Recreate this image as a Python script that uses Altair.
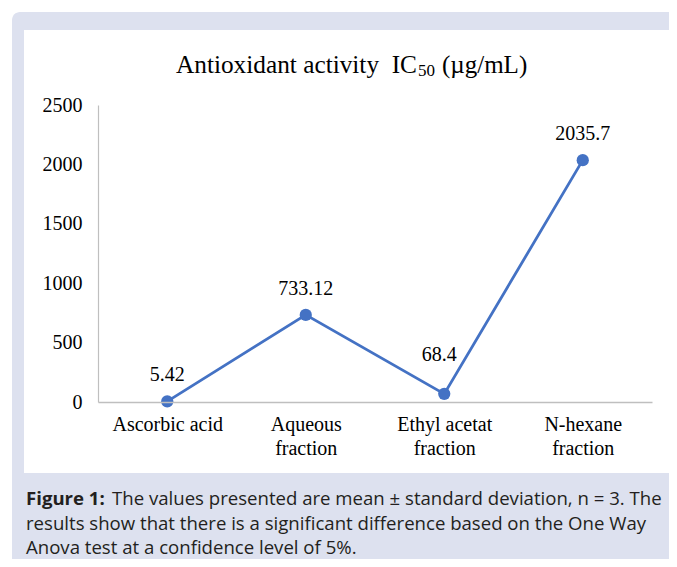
import altair as alt
import pandas as pd

categories = ["Ascorbic acid", "Aqueous fraction", "Ethyl acetat fraction", "N-hexane fraction"]
values = [5.42, 733.12, 68.4, 2035.7]
value_labels = ["5.42", "733.12", "68.4", "2035.7"]
y_ticks = [0, 500, 1000, 1500, 2000, 2500]

title_main = "Antioxidant activity\u00a0\u00a0IC"
title_sub = "50"
title_unit = "(\u00b5g/mL)"
caption_bold = "Figure 1:"
caption_lines = [
    "The values presented are mean \u00b1 standard deviation, n = 3. The",
    "results show that there is a significant difference based on the One Way",
    "Anova test at a confidence level of 5%.",
]

df = pd.DataFrame({"category": categories, "value": values, "label": value_labels})

SERIF = "Liberation Serif"
SANS = "Open Sans"
BLUE = "#4472C4"
LAV = "#dde1ef"

one = pd.DataFrame({"a": [0]})

bg = alt.Chart(one).mark_rect(color=LAV, cornerRadiusTopLeft=8).encode(
    x=alt.value(-86), x2=alt.value(600), y=alt.value(-93), y2=alt.value(470)
)
panel = alt.Chart(one).mark_rect(color="white").encode(
    x=alt.value(-74), x2=alt.value(576), y=alt.value(-75), y2=alt.value(368)
)

t1 = alt.Chart(one).mark_text(font=SERIF, fontSize=25.3, align="right", baseline="middle", color="black").encode(
    x=alt.value(319), y=alt.value(-40), text=alt.value(title_main))
t2 = alt.Chart(one).mark_text(font=SERIF, fontSize=17, align="left", baseline="middle", color="black").encode(
    x=alt.value(320), y=alt.value(-34), text=alt.value(title_sub))
t3 = alt.Chart(one).mark_text(font=SERIF, fontSize=25, align="left", baseline="middle", color="black").encode(
    x=alt.value(344), y=alt.value(-40), text=alt.value(title_unit))

cap_b = alt.Chart(one).mark_text(font=SANS, fontSize=18.6, fontWeight="bold", align="left", baseline="middle", color="#231f20").encode(
    x=alt.value(-72), y=alt.value(394), text=alt.value(caption_bold))
cap_layers = []
for i, (xx, line) in enumerate(zip([14, -72, -72], caption_lines)):
    cap_layers.append(
        alt.Chart(one).mark_text(font=SANS, fontSize=18.6, align="left", baseline="middle", color="#231f20").encode(
            x=alt.value(xx), y=alt.value(394 + 24.5 * i), text=alt.value(line))
    )

x_enc = alt.X(
    "category:N", sort=categories,
    scale=alt.Scale(type="point", padding=0.5),
    axis=alt.Axis(
        title=None, labelAngle=0, ticks=False, labelPadding=12, zindex=1,
        labelFont=SERIF, labelFontSize=20, labelColor="black", labelLineHeight=24,
        labelExpr="indexof(datum.label, ' fraction') > 0 ? [replace(datum.label, ' fraction', ''), 'fraction'] : datum.label",
        domainColor="#bfbfbf", domainWidth=1.5, grid=False,
    ),
)
y_enc = alt.Y(
    "value:Q",
    scale=alt.Scale(domain=[0, 2500], nice=False),
    axis=alt.Axis(
        title=None, values=y_ticks, format="d", ticks=False, labelPadding=16, grid=False, zindex=1,
        labelFont=SERIF, labelFontSize=20, labelColor="black",
        domainColor="#bfbfbf", domainWidth=1.2,
    ),
)

base = alt.Chart(df).encode(x=x_enc, y=y_enc)
line = base.mark_line(color=BLUE, strokeWidth=2.8)
pts = base.mark_circle(color=BLUE, size=150, opacity=1)
lab = base.transform_filter(alt.datum.category != "Ethyl acetat fraction").mark_text(
    font=SERIF, fontSize=20, dy=-26, color="black").encode(text="label:N")
lab2 = base.transform_filter(alt.datum.category == "Ethyl acetat fraction").mark_text(
    font=SERIF, fontSize=20, dy=-39, dx=-5, color="black").encode(text="label:N")

chart = alt.layer(bg, panel, t1, t2, t3, cap_b, *cap_layers, line, pts, lab, lab2).properties(
    width=554, height=297,
    autosize=alt.AutoSizeParams(type="none"),
    padding={"left": 90, "top": 97, "right": 17, "bottom": 157},
    background="white",
).configure_view(stroke=None)

chart.save("out.html", embed_options={"renderer": "svg", "actions": False})
